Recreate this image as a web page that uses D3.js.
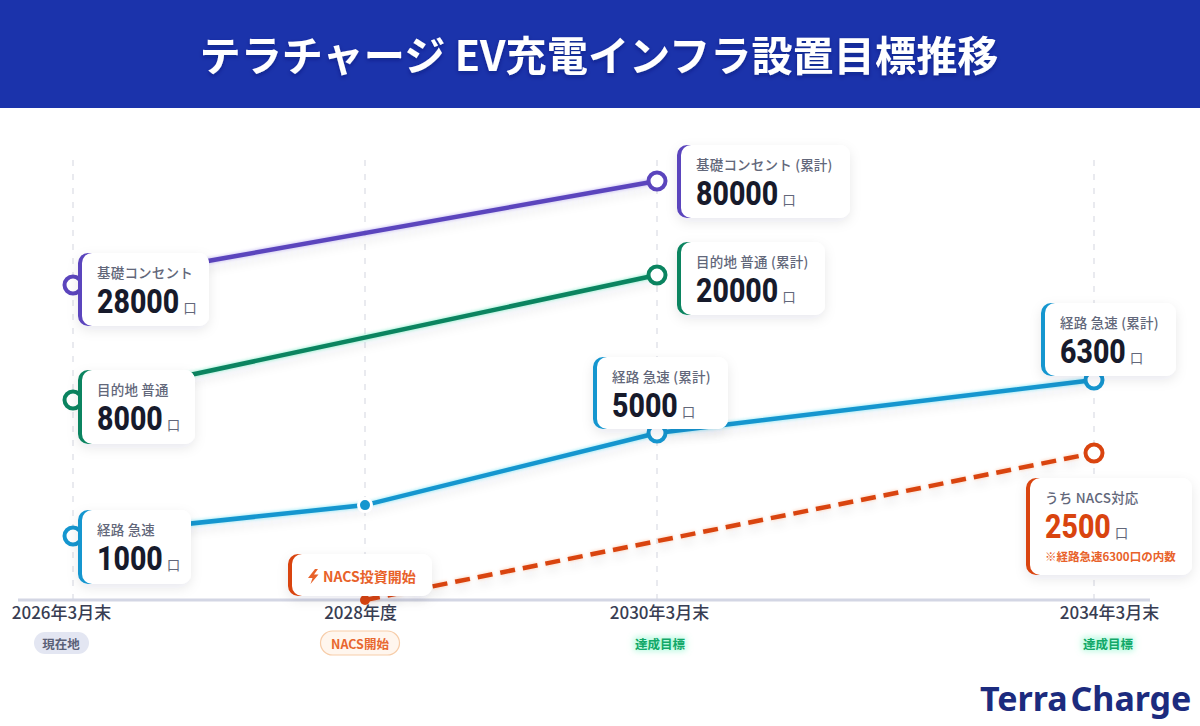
<!DOCTYPE html>
<html lang="ja">
<head>
<meta charset="utf-8">
<script src="https://cdn.jsdelivr.net/npm/d3@7"></script>
<style>
  html, body { margin: 0; padding: 0; background: #fff; }
  svg { display: block; }
  text { font-family: "Noto Sans CJK JP", "Noto Sans", sans-serif; }
  .num { font-family: Roboto, sans-serif; font-weight: 800; }
</style>
</head>
<body>
<svg id="chart" width="1200" height="726"></svg>
<script>
'use strict';

const titleText = 'テラチャージ EV充電インフラ設置目標推移';
const years = [2026, 2028, 2030, 2034];
const tickLabels = ['2026年3月末', '2028年度', '2030年3月末', '2034年3月末'];
const tickBadges = ['現在地', 'NACS開始', '達成目標', '達成目標'];

// null = no point for that year. 2028 rapid value is not labelled
const basicValues = [28000, null, 80000, null];
const destValues = [8000, null, 20000, null];
const rapidValues = [1000, 2200, 5000, 6300];
const nacsValues = [null, 0, null, 2500];

const basicNames = ['基礎コンセント', '基礎コンセント (累計)'];
const destNames = ['目的地 普通', '目的地 普通 (累計)'];
const rapidNames = ['経路 急速', '経路 急速 (累計)'];
const nacsName = 'うち NACS対応';
const nacsNote = '※経路急速6300口の内数';
const nacsStartText = 'NACS投資開始';
const unitText = '口';

const baseY = 600;
const x = d3.scaleLinear().domain(years).range([73, 365, 657, 1094]);

// every series sits on its own vertical scale in the original picture
const series = [
  { key: 'basic', values: basicValues, colour: '#5b45bd', halo: '#9d8cf0',
    y: d3.scaleLinear().domain([28000, 80000]).range([285, 181]) },
  { key: 'dest', values: destValues, colour: '#0b8460', halo: '#3fe6b0',
    y: d3.scaleLinear().domain([8000, 20000]).range([400, 275]) },
  { key: 'rapid', values: rapidValues, colour: '#1596cf', halo: '#3fdcf5',
    y: d3.scaleLinear().domain([1000, 5000, 6300]).range([536, 433, 380]) },
  { key: 'nacs', values: nacsValues, colour: '#d9440f', halo: '#ffb48c', dashed: true,
    y: d3.scaleLinear().domain([0, 2500]).range([baseY, 453]) }
];

function pointsOf(s) {
  return years
    .map((year, i) => ({ year, value: s.values[i] }))
    .filter(d => d.value !== null);
}

const svg = d3.select('#chart');
const defs = svg.append('defs');

function addBlur(id, amount) {
  defs.append('filter').attr('id', id)
    .attr('x', '-20%').attr('y', '-50%').attr('width', '140%').attr('height', '200%')
    .append('feGaussianBlur').attr('stdDeviation', amount);
}
addBlur('haloBlur', 1.4);
addBlur('lineShadow', 5);
addBlur('greenGlow', 3);

const cardShadow = defs.append('filter').attr('id', 'cardShadow')
  .attr('x', '-20%').attr('y', '-30%').attr('width', '140%').attr('height', '170%');
cardShadow.append('feDropShadow')
  .attr('dx', 0).attr('dy', 4).attr('stdDeviation', 6)
  .attr('flood-color', '#1c2340').attr('flood-opacity', 0.09);

const titleShadow = defs.append('filter').attr('id', 'titleShadow')
  .attr('x', '-5%').attr('y', '-20%').attr('width', '110%').attr('height', '150%');
titleShadow.append('feDropShadow')
  .attr('dx', 0).attr('dy', 2).attr('stdDeviation', 2)
  .attr('flood-color', '#0b1a60').attr('flood-opacity', 0.45);

// banner
svg.append('rect').attr('width', 1200).attr('height', 108).attr('fill', '#1b33ab');
svg.append('text')
  .attr('x', 599).attr('y', 71)
  .attr('text-anchor', 'middle')
  .attr('font-size', 41.2).attr('font-weight', 700).attr('fill', '#fff')
  .attr('filter', 'url(#titleShadow)')
  .text(titleText);

// grid
svg.append('g').selectAll('line').data(years).join('line')
  .attr('x1', d => x(d)).attr('x2', d => x(d))
  .attr('y1', 160).attr('y2', baseY)
  .attr('stroke', '#e2e4ea').attr('stroke-width', 1.5).attr('stroke-dasharray', '6 8');

// baseline
svg.append('line')
  .attr('x1', 18).attr('x2', 1150).attr('y1', baseY).attr('y2', baseY)
  .attr('stroke', '#d3d6e4').attr('stroke-width', 3);

// axis labels
const labelShift = [-12, -5, 2, 15];
const axis = d3.axisBottom(x)
  .tickValues(years)
  .tickSize(0)
  .tickFormat(d => tickLabels[years.indexOf(d)]);
const axisG = svg.append('g').attr('transform', `translate(0,${baseY})`).call(axis);
axisG.select('.domain').remove();
axisG.selectAll('text')
  .attr('font-family', '"Noto Sans CJK JP", sans-serif')
  .attr('font-size', 17).attr('font-weight', 500).attr('fill', '#383d52')
  .attr('y', 19).attr('dy', 0)
  .attr('dx', (d, i) => labelShift[i]);

// badges under the axis
const badgeG = svg.append('g');
const badgeCentre = [61, 360, 660, 1108];
function drawBadge(i) {
  const cx = badgeCentre[i];
  if (i === 0) {
    badgeG.append('rect').attr('x', cx - 27).attr('y', 632).attr('width', 55).attr('height', 22)
      .attr('rx', 11).attr('fill', '#e3e6f2');
  } else if (i === 1) {
    badgeG.append('rect').attr('x', cx - 39.5).attr('y', 631).attr('width', 79).attr('height', 24)
      .attr('rx', 12).attr('fill', '#fff6ee').attr('stroke', '#f7cda9').attr('stroke-width', 1.2);
  } else {
    // soft green glow, a blurred rect so no text is doubled
    badgeG.append('rect').attr('x', cx - 26).attr('y', 637).attr('width', 52).attr('height', 14)
      .attr('fill', '#7df5c4').attr('fill-opacity', 0.55).attr('filter', 'url(#greenGlow)');
  }
  badgeG.append('text').attr('x', cx).attr('y', 648.5).attr('text-anchor', 'middle')
    .attr('font-size', 12.5).attr('font-weight', 700)
    .attr('fill', i === 0 ? '#5b6178' : i === 1 ? '#e8672f' : '#12a868')
    .text(tickBadges[i]);
}
tickBadges.forEach((d, i) => drawBadge(i));

// lines
const lineG = svg.append('g');
series.forEach(s => {
  const pts = pointsOf(s);
  const line = d3.line().x(d => x(d.year)).y(d => s.y(d.value));
  const dash = s.dashed ? '15 8' : null;
  lineG.append('path').datum(pts).attr('d', line)
    .attr('fill', 'none').attr('stroke', '#1c2340').attr('stroke-width', 4)
    .attr('stroke-opacity', 0.1).attr('transform', 'translate(0,6)')
    .attr('stroke-dasharray', dash).attr('filter', 'url(#lineShadow)');
  lineG.append('path').datum(pts).attr('d', line)
    .attr('fill', 'none').attr('stroke', s.halo).attr('stroke-width', 6)
    .attr('stroke-opacity', 0.45)
    .attr('stroke-dasharray', dash).attr('filter', 'url(#haloBlur)');
  lineG.append('path').datum(pts).attr('d', line)
    .attr('fill', 'none').attr('stroke', s.colour).attr('stroke-width', 4.5)
    .attr('stroke-dasharray', dash);
});

// markers
series.forEach(s => {
  pointsOf(s).forEach(d => {
    const cx = x(d.year), cy = s.y(d.value);
    if (s.key === 'rapid' && d.year === 2028) {
      lineG.append('circle').attr('cx', cx).attr('cy', cy).attr('r', 6.5)
        .attr('fill', s.colour).attr('stroke', '#fff').attr('stroke-width', 3);
    } else if (s.key === 'nacs' && d.year === 2028) {
      lineG.append('circle').attr('cx', cx).attr('cy', cy).attr('r', 5).attr('fill', s.colour);
    } else {
      lineG.append('circle').attr('cx', cx).attr('cy', cy).attr('r', 8.5)
        .attr('fill', '#fff').attr('stroke', s.colour).attr('stroke-width', 4);
    }
  });
});

// cards
function drawCard(c, colour) {
  const g = svg.append('g');
  g.append('rect').attr('x', c.x).attr('y', c.y).attr('width', c.w).attr('height', c.h)
    .attr('rx', 10).attr('fill', '#fff').attr('filter', 'url(#cardShadow)');
  g.append('rect').attr('x', c.x).attr('y', c.y).attr('width', 24).attr('height', c.h)
    .attr('rx', 10).attr('fill', colour);
  g.append('rect').attr('x', c.x + 4).attr('y', c.y).attr('width', c.w - 4).attr('height', c.h)
    .attr('rx', 10).attr('fill', '#fff');
  return g;
}

const numSqueeze = 0.865;

function drawValueCard(c, colour, name, value, numColour) {
  const g = drawCard(c, colour);
  g.append('text').attr('x', c.x + 19).attr('y', c.y + 25)
    .attr('font-size', 13.5).attr('font-weight', 500).attr('letter-spacing', 0.2)
    .attr('fill', '#62677a').text(name);
  // the original digits are condensed, squeeze the Roboto ones to the same width
  const num = g.append('text').attr('class', 'num')
    .attr('transform', `translate(${c.x + 19},${c.y + 60}) scale(${numSqueeze},1)`)
    .attr('font-size', 33).attr('fill', numColour).text(d3.format('d')(value));
  const numWidth = num.node().getComputedTextLength() * numSqueeze;
  g.append('text').attr('x', c.x + 19 + numWidth + 4).attr('y', c.y + 60)
    .attr('font-size', 13.5).attr('fill', '#62677a').text(unitText);
  return g;
}

const ink = '#171a2b';
const basic = series[0], dest = series[1], rapid = series[2], nacs = series[3];

drawValueCard({ x: 78, y: 253, w: 131, h: 73 }, basic.colour, basicNames[0], basicValues[0], ink);
drawValueCard({ x: 78, y: 370, w: 117, h: 74 }, dest.colour, destNames[0], destValues[0], ink);
drawValueCard({ x: 78, y: 510, w: 113, h: 74 }, rapid.colour, rapidNames[0], rapidValues[0], ink);
drawValueCard({ x: 677, y: 145, w: 173, h: 73 }, basic.colour, basicNames[1], basicValues[2], ink);
drawValueCard({ x: 677, y: 242, w: 148, h: 73 }, dest.colour, destNames[1], destValues[2], ink);
drawValueCard({ x: 593, y: 357, w: 135, h: 72 }, rapid.colour, rapidNames[1], rapidValues[2], ink);
drawValueCard({ x: 1041, y: 303, w: 135, h: 73 }, rapid.colour, rapidNames[1], rapidValues[3], ink);

const nacsCard = drawValueCard({ x: 1026, y: 478, w: 166, h: 97 }, nacs.colour, nacsName, nacsValues[3], nacs.colour);
nacsCard.append('text').attr('x', 1045).attr('y', 561)
  .attr('font-size', 11.5).attr('font-weight', 700).attr('fill', '#e8622a').text(nacsNote);

// NACS start flag
const flag = drawCard({ x: 288, y: 554, w: 144, h: 42 }, nacs.colour);
flag.append('path')
  .attr('d', 'M315 569 L308 578 L312.5 578 L310.5 584 L318.5 574.5 L314 574.5 L318 569 Z')
  .attr('fill', '#e8622a');
flag.append('text').attr('x', 323).attr('y', 582)
  .attr('font-size', 14).attr('font-weight', 700).attr('fill', '#e8622a').text(nacsStartText);

// logo
svg.append('text').attr('x', 980).attr('y', 711)
  .style('font-family', '"Noto Sans", sans-serif')
  .attr('font-size', 34).attr('font-weight', 700).attr('fill', '#1c2b7e')
  .attr('word-spacing', -6)
  .text('Terra Charge');
</script>
</body>
</html>
